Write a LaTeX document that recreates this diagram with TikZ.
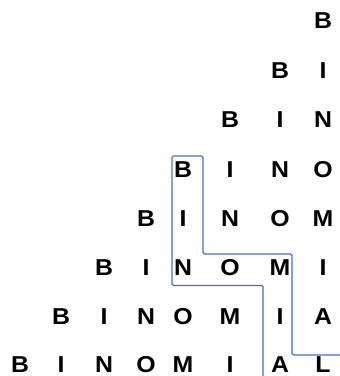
\documentclass[tikz,border=0pt]{standalone}
\usepackage{fontspec}
\setmainfont{Liberation Sans}[FakeStretch=1.08]
\definecolor{pathblue}{HTML}{4472C4}

\begin{document}
\begin{tikzpicture}[x=1pt,y=-1pt]
\tikzstyle{every node}=[font=\fontsize{23}{23}\selectfont\bfseries,inner sep=0pt]
\useasboundingbox (0,0) rectangle (340,376);
% rows of the triangle, right aligned
\foreach \y [count=\r] in {21,71,120,170,219,268,317,365} {
  \foreach \l [count=\k] in {B,I,N,O,M,I,A,L} {
    \ifnum\k>\r\relax\else
      \pgfmathsetmacro{\x}{{20,61,104,146,183,230,280,323}[7-\r+\k]}
      \node (l\r\k) at (\x,\y) {\l};
    \fi
  }
}
% the blue path
\draw[pathblue,line width=1.3pt,rounded corners=1.5pt] (340,355) -- (292,355) -- (292,254) -- (203,254)
  -- (203,156) -- (172,156) -- (172,285.5) -- (263,285.5) -- (263,376);
\end{tikzpicture}
\end{document}
